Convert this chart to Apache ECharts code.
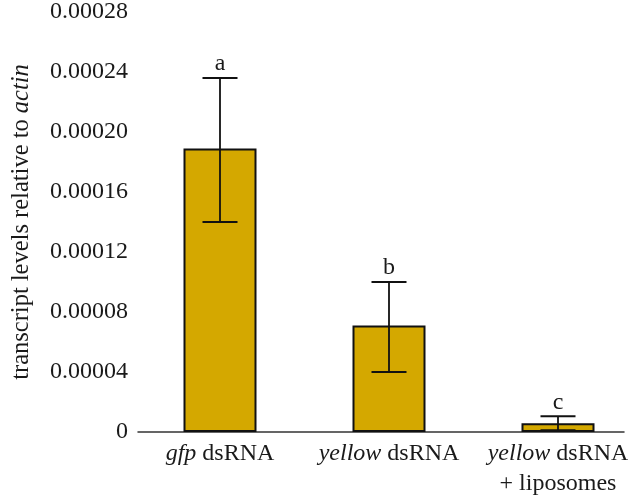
<!DOCTYPE html>
<html>
<head>
<meta charset="utf-8">
<script src="https://cdn.jsdelivr.net/npm/echarts@6/dist/echarts.min.js"></script>
<style>
  html, body { margin: 0; padding: 0; background: #fff; }
  #chart { width: 628px; height: 497px; }
</style>
</head>
<body>
<div id="chart"></div>
<script>
// categories (rich text keys: i = italic)
const categories = ['{i|gfp} dsRNA', '{i|yellow} dsRNA', '{i|yellow} dsRNA\n+ liposomes']
// mean transcript levels
const means = [0.000189, 0.000071, 0.0000058]
// error bar ends
const errLow = [0.00014, 0.00004, 0.0000012]
const errHigh = [0.000236, 0.0001, 0.0000105]
// significance letters
const letters = ['a', 'b', 'c']
// y ticks
const yMin = 0
const yMax = 0.00028
const yStep = 0.00004

const font = '"Liberation Serif", "Times New Roman", serif'
const chart = echarts.init(document.getElementById('chart'))

const errorData = means.map((m, i) => [i, errLow[i], errHigh[i]])

const option = {
  backgroundColor: '#fff',
  animation: false,
  grid: [
    // bars
    { left: 135.5, width: 507, top: 12, height: 420, outerBoundsMode: 'none', containLabel: false },
    // axis line + y labels
    { left: 138, right: 4, top: 12, height: 420, outerBoundsMode: 'none', containLabel: false }
  ],
  xAxis: [
    {
      type: 'category',
      gridIndex: 0,
      data: categories,
      axisLine: { show: false },
      axisTick: { show: false },
      axisLabel: {
        margin: 7,
        color: '#1a1a1a',
        fontFamily: font,
        fontSize: 24,
        lineHeight: 30,
        interval: 0,
        rich: {
          i: { fontFamily: font, fontSize: 24, fontStyle: 'italic', color: '#1a1a1a', lineHeight: 30 }
        }
      }
    },
    {
      type: 'value',
      gridIndex: 1,
      min: 0,
      max: 1,
      axisLine: { show: true, lineStyle: { color: '#333', width: 1.5 } },
      axisTick: { show: false },
      axisLabel: { show: false },
      splitLine: { show: false }
    }
  ],
  yAxis: [
    {
      type: 'value',
      gridIndex: 0,
      min: yMin,
      max: yMax,
      interval: yStep,
      show: false
    },
    {
      type: 'value',
      gridIndex: 1,
      min: yMin,
      max: yMax,
      interval: yStep,
      axisLine: { show: false },
      axisTick: { show: false },
      splitLine: { show: false },
      axisLabel: {
        margin: 10,
        color: '#1a1a1a',
        fontFamily: font,
        fontSize: 24,
        formatter: v => (v === 0 ? '0' : v.toFixed(5))
      },
      name: 'transcript levels relative to {i|actin}',
      nameLocation: 'middle',
      nameGap: 104,
      nameRotate: 90,
      nameTextStyle: {
        color: '#1a1a1a',
        fontFamily: font,
        fontSize: 24.5,
        rich: {
          i: { fontFamily: font, fontSize: 24.5, fontStyle: 'italic', color: '#1a1a1a' }
        }
      }
    }
  ],
  series: [
    {
      type: 'bar',
      xAxisIndex: 0,
      yAxisIndex: 0,
      data: means,
      barWidth: 73,
      itemStyle: { color: '#d4a800', borderColor: '#111', borderWidth: 2 }
    },
    {
      type: 'custom',
      xAxisIndex: 0,
      yAxisIndex: 0,
      data: errorData,
      z: 10,
      renderItem: (params, api) => {
        const x = api.value(0)
        const lo = api.coord([x, api.value(1)])
        const hi = api.coord([x, api.value(2)])
        const cap = 17.5
        const style = { stroke: '#111', lineWidth: 1.8 }
        return {
          type: 'group',
          children: [
            { type: 'line', shape: { x1: lo[0], y1: lo[1], x2: hi[0], y2: hi[1] }, style },
            { type: 'line', shape: { x1: hi[0] - cap, y1: hi[1], x2: hi[0] + cap, y2: hi[1] }, style },
            { type: 'line', shape: { x1: lo[0] - cap, y1: lo[1], x2: lo[0] + cap, y2: lo[1] }, style },
            {
              type: 'text',
              x: hi[0],
              y: hi[1] - 2,
              style: {
                text: letters[params.dataIndex],
                fill: '#1a1a1a',
                font: '24px "Liberation Serif", serif',
                align: 'center',
                verticalAlign: 'bottom'
              }
            }
          ]
        }
      }
    }
  ]
}

chart.setOption(option)
</script>
</body>
</html>
